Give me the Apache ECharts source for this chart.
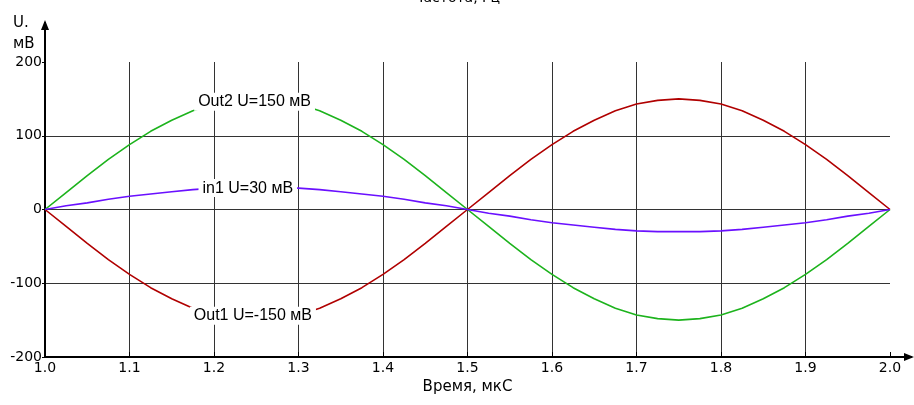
<!DOCTYPE html>
<html><head><meta charset="utf-8">
<script src="https://cdn.jsdelivr.net/npm/echarts@6/dist/echarts.min.js"></script>
<style>html,body{margin:0;padding:0;background:#fff}#c{width:914px;height:405px}</style>
</head><body><div id="c"></div>
<script>
const times = [1.0,1.025,1.05,1.075,1.1,1.125,1.15,1.175,1.2,1.225,1.25,1.275,1.3,1.325,1.35,1.375,1.4,1.425,1.45,1.475,1.5,
  1.525,1.55,1.575,1.6,1.625,1.65,1.675,1.7,1.725,1.75,1.775,1.8,1.825,1.85,1.875,1.9,1.925,1.95,1.975,2.0];
const out1 = [0,-23,-46,-68,-88,-106,-121,-134,-143,-148,-150,-148,-143,-134,-121,-106,-88,-68,-46,-23,0,
  23,46,68,88,106,121,134,143,148,150,148,143,134,121,106,88,68,46,23,0];
const out2 = [0,23,46,68,88,106,121,134,143,148,150,148,143,134,121,106,88,68,46,23,0,
  -23,-46,-68,-88,-106,-121,-134,-143,-148,-150,-148,-143,-134,-121,-106,-88,-68,-46,-23,0];
const in1 = [0,5,9,14,18,21,24,27,29,30,30,30,29,27,24,21,18,14,9,5,0,
  -5,-9,-14,-18,-21,-24,-27,-29,-30,-30,-30,-29,-27,-24,-21,-18,-14,-9,-5,0];
const labels = [
  {name:'Out2 U=150 мВ', x:1.248, y:146},
  {name:'in1 U=30 мВ', x:1.24, y:29},
  {name:'Out1 U=-150 мВ', x:1.246, y:-144}
];
const xTitle = 'Время, мкС';
const yTitleTop = 'U.';
const yTitleBottom = 'мВ';
const topTitle = 'Частота, Гц';

const zip = a => times.map((t,i)=>[t,a[i]]);
const chart = echarts.init(document.getElementById('c'), null, {renderer:'canvas'});
const lbl = {fontFamily:'Liberation Sans', fontSize:16, color:'#000'};
chart.setOption({
  animation:false,
  title:{text:topTitle, left:'center', top:-14, textStyle:{fontFamily:'DejaVu Sans', fontSize:14, fontWeight:'normal', color:'#000'}},
  grid:{left:45, right:24, top:62, bottom:48},
  xAxis:{type:'value', min:1.0, max:2.0, interval:0.1,
    name:xTitle, nameLocation:'middle', nameGap:18,
    nameTextStyle:{fontFamily:'DejaVu Sans', fontSize:15, color:'#000'},
    axisLine:{onZero:false, lineStyle:{color:'#000', width:2}},
    axisTick:{show:true, inside:true, length:5, lineStyle:{color:'#000'}},
    axisLabel:{fontFamily:'DejaVu Sans', fontSize:14, color:'#000', margin:4, formatter:v=>v.toFixed(1)},
    splitLine:{show:true, showMinLine:false, showMaxLine:false, lineStyle:{color:'#333', width:1}}
  },
  yAxis:{type:'value', min:-200, max:200, interval:100,
    name:'{a|' + yTitleTop + '}\n{a|' + yTitleBottom + '}', nameLocation:'end', nameGap:7,
    nameTextStyle:{fontFamily:'DejaVu Sans', fontSize:15, color:'#000', align:'right', verticalAlign:'bottom', padding:[0,10,0,0],
      rich:{a:{fontFamily:'DejaVu Sans', fontSize:15, color:'#000', width:22, align:'left', lineHeight:21}}},
    axisLine:{onZero:false, lineStyle:{color:'#000', width:2}},
    axisTick:{show:true, length:3, lineStyle:{color:'#000'}},
    axisLabel:{fontFamily:'DejaVu Sans', fontSize:14, color:'#000', margin:3},
    splitLine:{show:true, showMinLine:false, showMaxLine:false, lineStyle:{color:'#333', width:1}}
  },
  series:[
    {type:'line', data:zip(out1), showSymbol:false, lineStyle:{color:'#b00000', width:1.6}, z:3},
    {type:'line', data:zip(out2), showSymbol:false, lineStyle:{color:'#1db31d', width:1.6}, z:3},
    {type:'line', data:zip(in1), showSymbol:false, lineStyle:{color:'#6a10ff', width:1.6}, z:3},
    {type:'scatter', symbolSize:0, z:10, itemStyle:{opacity:1}, data:labels.map(l=>({value:[l.x,l.y], name:l.name})),
      label:{show:true, position:'inside', opacity:1, formatter:p=>p.name, backgroundColor:'#ffffff', padding:[1,4,1,4], ...lbl},
      emphasis:{disabled:true}}
  ]
});
function arrows(){
  const o = chart.convertToPixel({gridIndex:0},[1.0,-200]);
  const e = chart.convertToPixel({gridIndex:0},[2.0,200]);
  const x0=o[0], y0=o[1], x1=e[0], y1=e[1];
  chart.setOption({graphic:[
    {type:'line', shape:{x1:x1,y1:y0,x2:x1+22,y2:y0}, style:{stroke:'#000',lineWidth:2}, z:20},
    {type:'polygon', shape:{points:[[x1+24,y0],[x1+14,y0-4],[x1+14,y0+4]]}, style:{fill:'#000'}, z:20},
    {type:'line', shape:{x1:x0,y1:y1,x2:x0,y2:y1-40}, style:{stroke:'#000',lineWidth:2}, z:20},
    {type:'polygon', shape:{points:[[x0,y1-42],[x0-4,y1-32],[x0+4,y1-32]]}, style:{fill:'#000'}, z:20}
  ]});
}
arrows();
</script></body></html>
